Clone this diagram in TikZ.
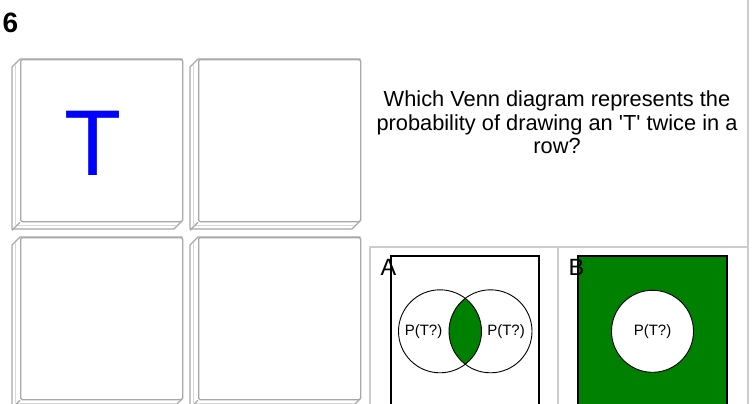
\documentclass[tikz,border=0pt]{standalone}
\usepackage{fontspec}
\setmainfont{Liberation Sans}
\definecolor{tilegray}{HTML}{A8A8A8}
\definecolor{panelgray}{HTML}{CCCCCC}
\definecolor{venngreen}{HTML}{008000}
\definecolor{tblue}{HTML}{0000FF}
\tikzset{
  face/.style={draw=tilegray, line width=1.3pt, rounded corners=1.5pt, fill=white,
    minimum width=162pt, minimum height=162pt, inner sep=0pt, anchor=north west},
  slab/.style={draw=tilegray, line width=1.3pt, line join=round, fill=white},
  inner/.style={draw=tilegray!45, line width=0.9pt},
  panel/.style={draw=panelgray, line width=1.8pt},
  frame/.style={draw=black, line width=1.2pt},
  venn/.style={draw=black, line width=0.9pt},
  qtext/.style={font=\fontsize{21.8}{23.5}\selectfont, inner sep=0pt, anchor=base},
  plabel/.style={font=\fontsize{15}{16}\selectfont, inner sep=0pt},
  optlabel/.style={font=\fontsize{23.5}{26}\selectfont, inner sep=0pt, anchor=base west},
}
\newcommand\mytile[3]{%
  \path (#2,#3) coordinate (#1tl);
  \draw[slab] (#1tl) -- ++(-8,8) -- ++(0,162) -- ++(162,0) -- ++(8,-8) -- ++(0,-162) -- cycle;
  \draw[inner] ($(#1tl)+(-4.5,6)$) -- ++(0,160);
  \draw[inner] ($(#1tl)+(-4.5,166)$) -- ++(161,0);
  \node[face] (#1) at (#1tl) {};
  \draw[slab, fill=none] (#1.south west) -- ++(-8,8);
}
\usetikzlibrary{calc}
\begin{document}
\begin{tikzpicture}[x=1pt, y=-1pt]
\useasboundingbox (0,0) rectangle (752,404);
\fill[white] (0,0) rectangle (752,404);
% question number
\node[font=\fontsize{28}{30}\selectfont\bfseries, inner sep=0pt, anchor=base west] (num) at (2.5,33) {6};
% tiles
\mytile{t1}{20}{59}
\mytile{t2}{198}{59}
\mytile{t3}{20}{237}
\mytile{t4}{198}{237}
\node[font=\fontsize{93.5}{95}\selectfont, text=tblue, inner sep=0pt, anchor=base] (letter) at (93.5,175) {T};
% question
\node[qtext] (q1) at (557,106.7) {Which Venn diagram represents the};
\node[qtext] (q2) at (557,130.2) {probability of drawing an \textquotesingle T\textquotesingle\ twice in a};
\node[qtext] (q3) at (557,153.7) {row?};
% panel lines
\draw[panel] (748,0) coordinate (pr0) -- (748,404) coordinate (pr1);
\draw[panel] (370,404) coordinate (pa) -- (370,247) coordinate (pb) -- (748,247) coordinate (pc);
\draw[panel] (558,247) coordinate (pd) -- (558,404) coordinate (pe);
% option A
\draw[frame] (391,404) coordinate (a0) -- (391,256) coordinate (a1) -- (539,256) coordinate (a2) -- (539,404) coordinate (a3);
\coordinate (cl) at (440,331.3);
\coordinate (cr) at (490.5,331.3);
\begin{scope}
  \clip (cl) circle (41.5);
  \fill[venngreen] (cr) circle (41.5);
\end{scope}
\draw[venn] (cl) circle (41.5);
\draw[venn] (cr) circle (41.5);
\node[plabel] (pl) at (423.5,331.5) {P(T?)};
\node[plabel] (pr) at (506,331.5) {P(T?)};
\node[optlabel] (la) at (380.5,275) {A};
% option B
\fill[venngreen] (578,256) rectangle (727,404);
\draw[frame] (578,404) coordinate (b0) -- (578,256) coordinate (b1) -- (727,256) coordinate (b2) -- (727,404) coordinate (b3);
\draw[venn, fill=white] (652.5,331.3) coordinate (cb) circle (41);
\node[plabel] (pb1) at (cb) {P(T?)};
\node[optlabel] (lb) at (568.5,275) {B};
\end{tikzpicture}
\end{document}
